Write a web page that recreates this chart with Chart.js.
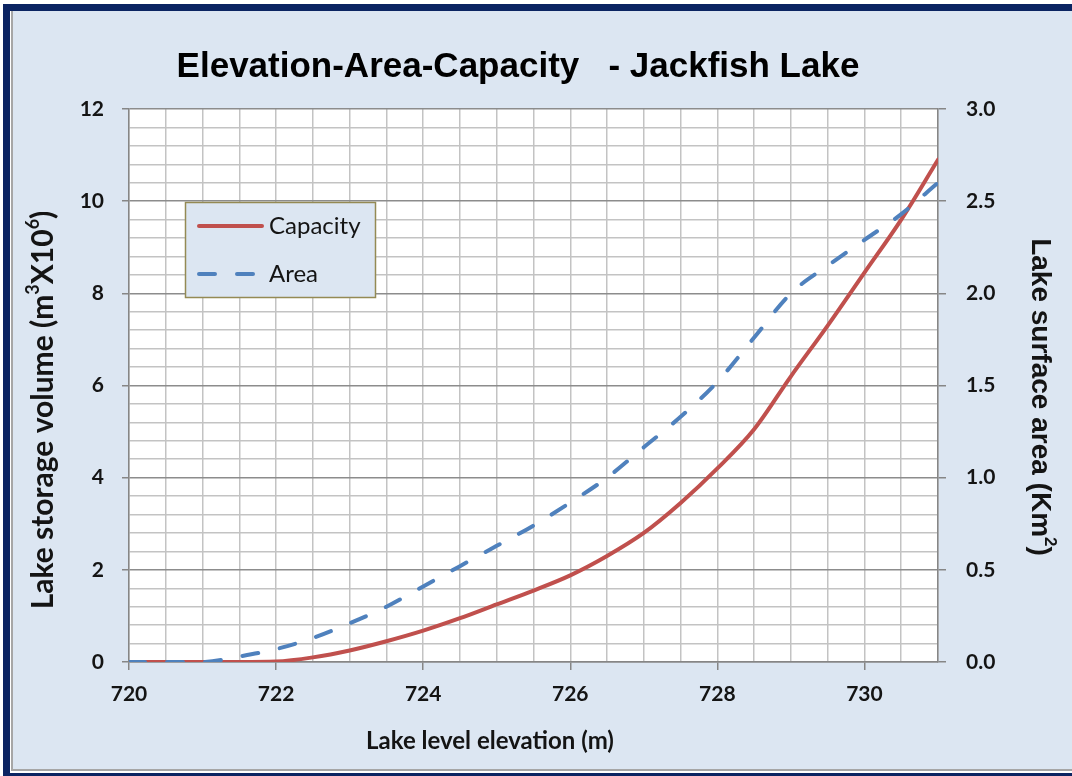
<!DOCTYPE html>
<html>
<head>
<meta charset="utf-8">
<title>Elevation-Area-Capacity - Jackfish Lake</title>
<script src="https://cdn.jsdelivr.net/npm/chart.js@4"></script>
<style>
  html, body { margin: 0; padding: 0; background: #fff; }
</style>
</head>
<body>
<canvas id="lake-chart" width="1072" height="776"></canvas>
<script>
// Lake level elevation (m), every half metre
const elevation = [720, 720.5, 721, 721.5, 722, 722.5, 723, 723.5, 724, 724.5, 725, 725.5,
                   726, 726.5, 727, 727.5, 728, 728.5, 729, 729.5, 730, 730.5, 731];
// Storage volume (m3 x 10^6), left axis
const capacity = [0, 0, 0, 0, 0.01, 0.1, 0.25, 0.45, 0.68, 0.95, 1.25, 1.55,
                  1.88, 2.3, 2.8, 3.45, 4.2, 5.05, 6.2, 7.3, 8.45, 9.6, 10.9];
// Surface area (Km2), right axis
const area = [0, 0, 0, 0.03, 0.07, 0.13, 0.21, 0.30, 0.41, 0.52, 0.63, 0.74,
              0.865, 1.0, 1.165, 1.33, 1.52, 1.76, 2.0, 2.15, 2.29, 2.43, 2.6];

const chartTitle = 'Elevation-Area-Capacity   - Jackfish Lake';
const xTitle = 'Lake level elevation (m)';
const leftTitle = [['Lake storage volume (m', false], ['3', true], ['X10', false], ['6', true], [')', false]];
const rightTitle = [['Lake surface area (Km', false], ['2', true], [')', false]];

const BG = '#dce6f2';
const NAVY = '#0b2462';
const AXIS = '#868686';
const textColor = '#141414';

const isEven = v => Math.abs(v / 2 - Math.round(v / 2)) < 1e-6;

// draw text with small raised parts, centred on 0,0 of the current transform
function drawRich(ctx, parts, size, family) {
    const big = 'bold ' + size + 'px ' + family;
    const small = 'bold ' + Math.round(size * 0.6) + 'px ' + family;
    let total = 0;
    parts.forEach(([t, sup]) => {
        ctx.font = sup ? small : big;
        total += ctx.measureText(t).width;
    });
    let x = -total / 2;
    ctx.textBaseline = 'middle';
    ctx.textAlign = 'left';
    parts.forEach(([t, sup]) => {
        ctx.font = sup ? small : big;
        ctx.fillText(t, x, sup ? -size * 0.33 : 0);
        x += ctx.measureText(t).width;
    });
}

const framePlugin = {
    id: 'frame',
    beforeDraw(chart) {
        const ctx = chart.ctx;
        const {left, top, right, bottom} = chart.chartArea;
        ctx.save();
        ctx.fillStyle = '#fff';
        ctx.fillRect(0, 0, chart.width, chart.height);
        ctx.fillStyle = NAVY;
        ctx.fillRect(3, 4, chart.width - 3, 7);
        ctx.fillRect(3, 4, 7, chart.height - 4);
        ctx.fillRect(3, 773, chart.width - 3, 3);
        ctx.fillStyle = '#a6a6a6';
        ctx.fillRect(11, 11, 2, 760);
        ctx.fillRect(11, 769, chart.width - 11, 2);
        ctx.fillStyle = BG;
        ctx.fillRect(13, 11, chart.width - 13, 758);
        ctx.fillStyle = '#fff';
        ctx.fillRect(left, top, right - left, bottom - top);
        ctx.restore();
    },
    afterDraw(chart) {
        const ctx = chart.ctx;
        ctx.save();
        ctx.fillStyle = textColor;

        // axis titles
        ctx.save();
        ctx.translate(43, 410);
        ctx.rotate(-Math.PI / 2);
        drawRich(ctx, leftTitle, 30, 'Lato, sans-serif');
        ctx.restore();

        ctx.save();
        ctx.translate(1040, 397);
        ctx.rotate(Math.PI / 2);
        drawRich(ctx, rightTitle, 28, '"Liberation Sans", Arial, sans-serif');
        ctx.restore();

        ctx.font = 'bold 24px Lato, sans-serif';
        ctx.textAlign = 'center';
        ctx.textBaseline = 'middle';
        ctx.fillText(xTitle, 490, 741);

        // legend box
        const bx = 185.5, by = 202.5, bw = 190, bh = 95;
        ctx.fillStyle = BG;
        ctx.fillRect(bx, by, bw, bh);
        ctx.strokeStyle = '#948a54';
        ctx.lineWidth = 1.5;
        ctx.strokeRect(bx, by, bw, bh);
        chart.data.datasets.forEach((ds, i) => {
            const y = 226 + i * 48;
            ctx.beginPath();
            ctx.strokeStyle = ds.borderColor;
            ctx.lineWidth = 4;
            ctx.lineCap = 'round';
            ctx.setLineDash(ds.borderDash || []);
            ctx.moveTo(199, y);
            ctx.lineTo(262, y);
            ctx.stroke();
            ctx.setLineDash([]);
            ctx.fillStyle = textColor;
            ctx.font = '24px Lato, sans-serif';
            ctx.textAlign = 'left';
            ctx.textBaseline = 'middle';
            ctx.fillText(ds.label, 269, y);
        });
        ctx.restore();
    }
};

const tickFont = {family: 'Lato, sans-serif', size: 21, weight: 'bold'};

new Chart(document.getElementById('lake-chart'), {
    type: 'line',
    data: {
        datasets: [{
            label: 'Capacity',
            data: elevation.map((e, i) => ({x: e, y: capacity[i]})),
            yAxisID: 'yVol',
            order: 1,
            borderColor: '#c0504d',
            borderWidth: 4,
            pointRadius: 0,
            cubicInterpolationMode: 'monotone',
            borderCapStyle: 'round'
        }, {
            label: 'Area',
            data: elevation.map((e, i) => ({x: e, y: area[i]})),
            yAxisID: 'yArea',
            order: 0,
            borderColor: '#4f81bd',
            borderWidth: 4,
            borderDash: [16, 22],
            borderCapStyle: 'round',
            pointRadius: 0,
            cubicInterpolationMode: 'monotone'
        }]
    },
    options: {
        responsive: false,
        animation: false,
        layout: {padding: {left: 0, right: 36, top: 0, bottom: 0}},
        plugins: {
            legend: {display: false},
            tooltip: {enabled: false},
            title: {
                display: true,
                text: chartTitle,
                color: '#000',
                font: {family: '"Liberation Sans", Arial, sans-serif', size: 35, weight: 'bold'},
                padding: {top: 46, bottom: 21}
            }
        },
        scales: {
            x: {
                type: 'linear',
                min: 720,
                max: 731,
                afterFit: s => { s.height = 114; },
                ticks: {
                    stepSize: 0.5,
                    autoSkip: false,
                    maxRotation: 0,
                    padding: 12,
                    color: textColor,
                    font: tickFont,
                    callback: v => isEven(v) && v < 731 ? v : ''
                },
                grid: {
                    color: '#c3c3c3',
                    lineWidth: 1.5,
                    tickLength: 8,
                    tickColor: c => (c.tick && isEven(c.tick.value) && c.tick.value < 731) ? AXIS : 'rgba(0,0,0,0)'
                },
                border: {color: AXIS, width: 1.5}
            },
            yVol: {
                position: 'left',
                min: 0,
                max: 12,
                afterFit: s => { s.width = 129; },
                ticks: {
                    stepSize: 0.4,
                    autoSkip: false,
                    padding: 18,
                    color: textColor,
                    font: tickFont,
                    callback: v => isEven(v) ? Math.round(v) : ''
                },
                grid: {
                    color: c => (c.tick && isEven(c.tick.value)) ? '#8c8c8c' : '#c3c3c3',
                    lineWidth: 1.5,
                    tickLength: 7,
                    tickColor: c => (c.tick && isEven(c.tick.value)) ? AXIS : 'rgba(0,0,0,0)'
                },
                border: {color: AXIS, width: 1.5}
            },
            yArea: {
                position: 'right',
                min: 0,
                max: 3,
                afterFit: s => { s.width = 98; },
                ticks: {
                    stepSize: 0.5,
                    padding: 20,
                    color: textColor,
                    font: tickFont,
                    callback: v => v.toFixed(1)
                },
                grid: {
                    drawOnChartArea: false,
                    tickLength: 8,
                    tickColor: AXIS,
                    lineWidth: 1.5
                },
                border: {color: AXIS, width: 1.5}
            }
        }
    },
    plugins: [framePlugin]
});
</script>
</body>
</html>
